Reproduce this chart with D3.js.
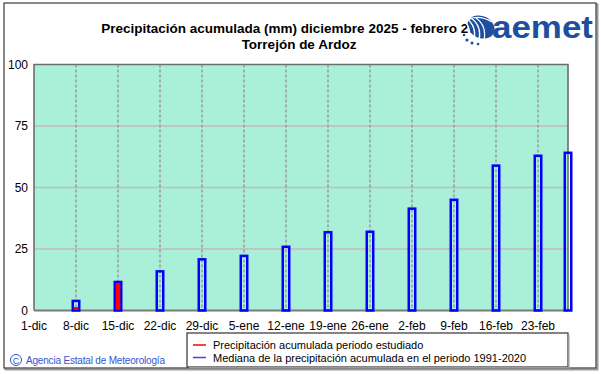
<!DOCTYPE html>
<html><head><meta charset="utf-8">
<script src="https://cdn.jsdelivr.net/npm/d3@7"></script>
<style>html,body{margin:0;padding:0;background:#fff;}svg{display:block;}</style>
</head><body>
<script>
const titleLines = ["Precipitación acumulada (mm) diciembre 2025 - febrero 2026", "Torrejón de Ardoz"];
const tickDates = ["2025-12-01","2025-12-08","2025-12-15","2025-12-22","2025-12-29","2026-01-05","2026-01-12","2026-01-19","2026-01-26","2026-02-02","2026-02-09","2026-02-16","2026-02-23"];
const tickLabels = ["1-dic","8-dic","15-dic","22-dic","29-dic","5-ene","12-ene","19-ene","26-ene","2-feb","9-feb","16-feb","23-feb"];
const yTicks = [0,25,50,75,100];
const medianDates = ["2025-12-08","2025-12-15","2025-12-22","2025-12-29","2026-01-05","2026-01-12","2026-01-19","2026-01-26","2026-02-02","2026-02-09","2026-02-16","2026-02-23","2026-02-28"];
const medianValues = [3.9, 11.6, 15.9, 20.8, 22.2, 25.9, 31.8, 32.0, 41.4, 45.0, 58.9, 62.9, 64.1];
const obsDates = ["2025-12-01","2025-12-08","2025-12-15"];
const obsValues = [0, 1.4, 11.2];
const legendLabels = ["Precipitación acumulada periodo estudiado","Mediana de la precipitación acumulada en el periodo 1991-2020"];
const creditText = "Agencia Estatal de Meteorología";

const W = 601, H = 374;
const pl = 34, pr = 568, pt = 64.5, pb = 310.5;
const parse = d3.utcParse("%Y-%m-%d");
const x = d3.scaleUtc().domain([parse("2025-12-01"), parse("2026-02-28")]).range([pl, pr]);
const y = d3.scaleLinear().domain([0,100]).range([pb, pt]);
const font = "'Liberation Sans', Arial, sans-serif";

const svg = d3.select("body").append("svg").attr("width", W).attr("height", H);

// outer frame with shadow
svg.append("rect").attr("x",5.5).attr("y",4.5).attr("width",592).attr("height",365).attr("fill","none").attr("stroke","#9a9a9a").attr("stroke-width",2);
svg.append("rect").attr("x",4).attr("y",3).attr("width",592).attr("height",365).attr("fill","#fff").attr("stroke","#3a3a3a").attr("stroke-width",1.2);

// plot background
svg.append("rect").attr("x",pl).attr("y",pt).attr("width",pr-pl).attr("height",pb-pt).attr("fill","#aaf0d8");

// horizontal grid
svg.append("g").selectAll("line").data(yTicks.filter(d=>d>0 && d<100)).join("line")
  .attr("x1",pl).attr("x2",pr).attr("y1",d=>y(d)).attr("y2",d=>y(d))
  .attr("stroke","#c4b8bf").attr("stroke-width",1.6);

// vertical grid (dashed)
svg.append("g").selectAll("line").data(tickDates.slice(1)).join("line")
  .attr("x1",d=>x(parse(d))).attr("x2",d=>x(parse(d))).attr("y1",pt).attr("y2",pb)
  .attr("stroke","#9e9e9e").attr("stroke-width",1.6).attr("stroke-dasharray","3,2");

// frame
svg.append("path").attr("d",`M${pl},${pb}V${pt}H${pr}V${pb}`).attr("fill","none").attr("stroke","#6e6e6e").attr("stroke-width",1.6);
svg.append("line").attr("x1",pl).attr("x2",pr).attr("y1",pb).attr("y2",pb).attr("stroke","#7a7a7a").attr("stroke-width",2);

// median bars (outline)
const medW = 6.5;
svg.append("g").selectAll("rect").data(medianDates.map((d,i)=>({d:parse(d),v:medianValues[i]}))).join("rect")
  .attr("x",d=>x(d.d)-medW/2).attr("width",medW)
  .attr("y",d=>y(d.v)).attr("height",d=>y(0)-y(d.v))
  .attr("fill","none").attr("stroke","#0000ff").attr("stroke-width",2.5);

// observed bars (red)
const obsW = 4.6;
svg.append("g").selectAll("rect").data(obsDates.map((d,i)=>({d:parse(d),v:obsValues[i]})).filter(d=>d.v>0)).join("rect")
  .attr("x",d=>x(d.d)-obsW/2).attr("width",obsW)
  .attr("y",d=>y(d.v)).attr("height",d=>y(0)-y(d.v)-1)
  .attr("fill","#ff0000");

// y labels
svg.append("g").selectAll("text").data(yTicks).join("text")
  .attr("x",28).attr("y",d=>y(d)+4).attr("text-anchor","end")
  .attr("font-family",font).attr("font-size",12).attr("fill","#000").text(d=>d);

// x labels
svg.append("g").selectAll("text").data(tickDates).join("text")
  .attr("x",d=>x(parse(d))).attr("y",330).attr("text-anchor","middle")
  .attr("font-family",font).attr("font-size",12).attr("fill","#000").text((d,i)=>tickLabels[i]);

// title
svg.append("text").attr("x",296).attr("y",33).attr("text-anchor","middle")
  .attr("font-family",font).attr("font-weight","bold").attr("font-size",13.5).attr("fill","#000").text(titleLines[0]);
svg.append("text").attr("x",299).attr("y",49).attr("text-anchor","middle")
  .attr("font-family",font).attr("font-weight","bold").attr("font-size",13.5).attr("fill","#000").text(titleLines[1]);

// aemet logo
const logo = svg.append("g");
const lc = "#1d4f9e";
logo.append("ellipse").attr("cx",481).attr("cy",27).attr("rx",14).attr("ry",11).attr("transform","rotate(25,481,27)").attr("fill",lc);
[[-9,1.4],[-4,1.4],[1,1.4],[6,1.2]].forEach(([o,w])=>{
  logo.append("path").attr("d",`M${470+o},${18} Q${481+o},${26} ${478+o},${40}`).attr("fill","none").attr("stroke","#fff").attr("stroke-width",w);
});
logo.append("path").attr("d","M468,20 Q478,14 492,22").attr("fill","none").attr("stroke","#fff").attr("stroke-width",1.2);
[[467,40,1.6],[472,43,1.5],[478,44,1.3],[464,35,1.3]].forEach(([cx,cy,r])=>{
  logo.append("circle").attr("cx",cx).attr("cy",cy).attr("r",r).attr("fill",lc);
});
logo.append("text").attr("x",492).attr("y",38).attr("font-family","'Liberation Sans', Arial, sans-serif").attr("font-weight","bold")
  .attr("font-size",31).attr("textLength",101).attr("lengthAdjust","spacingAndGlyphs").attr("fill",lc).text("aemet");

// credit
svg.append("circle").attr("cx",16).attr("cy",360).attr("r",5.5).attr("fill","none").attr("stroke","#3355cc").attr("stroke-width",1);
svg.append("text").attr("x",16).attr("y",363.5).attr("text-anchor","middle").attr("font-family",font).attr("font-size",9).attr("fill","#3355cc").text("C");
svg.append("text").attr("x",26).attr("y",364).attr("font-family",font).attr("font-size",10).attr("fill","#3355cc")
  .attr("textLength",139).attr("lengthAdjust","spacing").text(creditText);

// legend
svg.append("rect").attr("x",187).attr("y",333).attr("width",381).attr("height",34).attr("fill","#fff").attr("stroke","#333").attr("stroke-width",1.2);
svg.append("rect").attr("x",189).attr("y",367).attr("width",381).attr("height",1.5).attr("fill","#999");
svg.append("rect").attr("x",568).attr("y",335).attr("width",1.5).attr("height",33).attr("fill","#999");
const legColors = ["#ff0000","#4040ff"];
legendLabels.forEach((t,i)=>{
  const cy = 345 + i*12.5;
  svg.append("line").attr("x1",193).attr("x2",206).attr("y1",cy).attr("y2",cy).attr("stroke",legColors[i]).attr("stroke-width",1.5);
  svg.append("text").attr("x",213).attr("y",cy+4).attr("font-family",font).attr("font-size",11).attr("fill","#000").text(t);
});
</script>
</body></html>
